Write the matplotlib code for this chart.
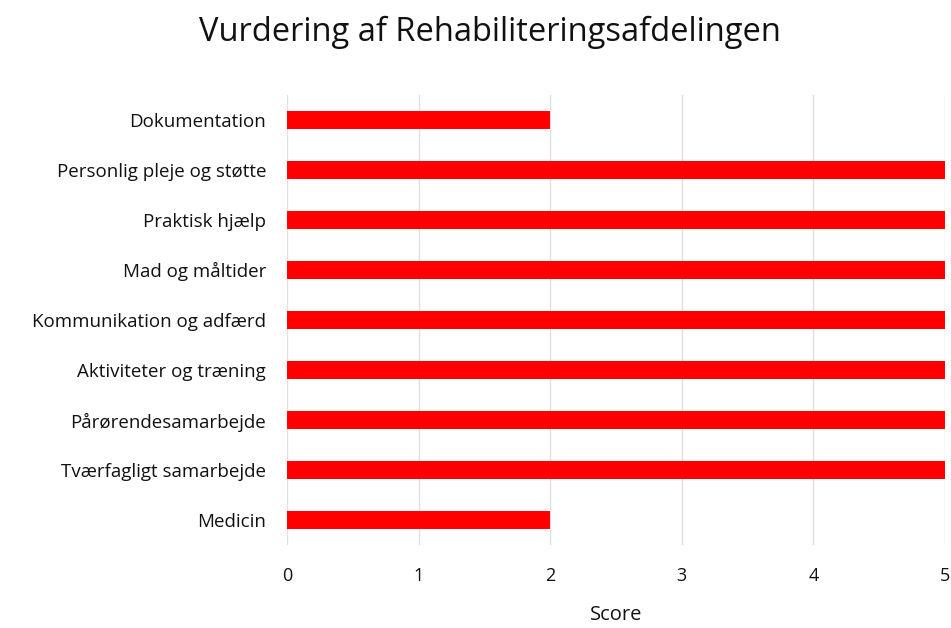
import matplotlib
matplotlib.use("Agg")
import matplotlib.pyplot as plt

plt.rcParams['font.family'] = ['Open Sans', 'DejaVu Sans']

categories = ['Dokumentation', 'Personlig pleje og støtte', 'Praktisk hjælp',
              'Mad og måltider', 'Kommunikation og adfærd', 'Aktiviteter og træning',
              'Pårørendesamarbejde', 'Tværfagligt samarbejde', 'Medicin']
scores = [2, 5, 5, 5, 5, 5, 5, 5, 2]
xticks = [0, 1, 2, 3, 4, 5]

fig = plt.figure(figsize=(9.51, 6.28), dpi=100)
ax = fig.add_axes([0.3018, 0.132, 0.6919, 0.717])

pos = list(range(len(categories)))[::-1]
ax.barh(pos, scores, height=0.36, color='#ff0000', zorder=3)

ax.set_xlim(0, 5)
ax.set_ylim(-0.5, 8.5)
ax.set_yticks(pos)
ax.set_yticklabels(categories, fontsize=13.5, color='#111111')
ax.set_xticks(xticks)
ax.set_xticklabels([str(t) for t in xticks], fontsize=13, color='#111111')
ax.tick_params(axis='both', length=0)
ax.tick_params(axis='x', pad=16)
ax.tick_params(axis='y', pad=15)
ax.grid(axis='x', color='#e0e0e0', linewidth=1, zorder=0)
for s in ax.spines.values():
    s.set_visible(False)

ax.set_xlabel('Score', fontsize=14.5, color='#111111', labelpad=14)
fig.text(0.515, 0.948, 'Vurdering af Rehabiliteringsafdelingen', ha='center', va='center',
         fontsize=23.5, color='#111111')

fig.savefig('out.png', dpi=100)
